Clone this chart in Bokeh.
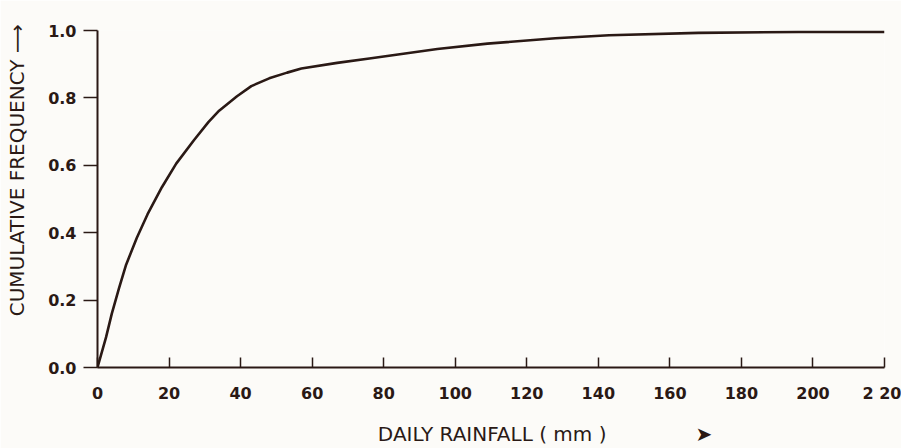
from bokeh.plotting import figure
from bokeh.models import FixedTicker, Range1d, PrintfTickFormatter, ColumnDataSource
from bokeh.embed import file_html
from bokeh.resources import INLINE

# Data (daily rainfall in mm vs cumulative frequency)
rainfall_mm = [0, 2.4, 4, 6, 8, 11, 14, 18, 22, 27, 31, 34, 39, 43, 48, 53, 57,
               67, 76, 86, 95, 109, 128, 143, 168, 196, 220]
cum_freq = [0.0, 0.09, 0.16, 0.235, 0.305, 0.385, 0.455, 0.535, 0.605, 0.675, 0.728,
            0.762, 0.805, 0.835, 0.858, 0.875, 0.887, 0.904, 0.917, 0.932, 0.945, 0.961,
            0.977, 0.986, 0.993, 0.996, 0.996]

x_ticks = [0, 20, 40, 60, 80, 100, 120, 140, 160, 180, 200, 220]
y_ticks = [0.0, 0.2, 0.4, 0.6, 0.8, 1.0]
x_title = "DAILY RAINFALL ( mm )"
y_title = "CUMULATIVE FREQUENCY"

INK = "#2a1915"
BG = "#fcfbf8"
FONT = "DejaVu Sans"
NB = "\u00a0"

p = figure(width=901, height=448, output_backend="svg", toolbar_location=None,
           x_range=Range1d(0, 220), y_range=Range1d(0, 1.0),
           min_border_left=97, min_border_right=17, min_border_top=30, min_border_bottom=77)
p.background_fill_color = BG
p.border_fill_color = BG
p.outline_line_color = None
p.xgrid.visible = False
p.ygrid.visible = False

src = ColumnDataSource(dict(x=rainfall_mm, y=cum_freq))
p.line("x", "y", source=src, line_color=INK, line_width=2.6, line_join="round")

# x axis: ticks pointing inward
xa = p.xaxis[0]
xa.ticker = FixedTicker(ticks=x_ticks)
xa.major_label_overrides = {220: "2 20"}
xa.major_tick_in = 10
xa.major_tick_out = 0
xa.minor_tick_line_color = None
xa.axis_line_width = 2
xa.axis_line_color = INK
xa.major_tick_line_color = INK
xa.major_tick_line_width = 1.5
xa.major_label_text_font = FONT
xa.major_label_text_font_style = "bold"
xa.major_label_text_font_size = "16px"
xa.major_label_text_color = INK
xa.major_label_standoff = 16
xa.axis_label = NB * 17 + x_title + NB * 14 + "\u27a4"
xa.axis_label_text_font = FONT
xa.axis_label_text_font_style = "normal"
xa.axis_label_text_font_size = "20px"
xa.axis_label_text_color = INK
xa.axis_label_standoff = 16

ya = p.yaxis[0]
ya.ticker = FixedTicker(ticks=y_ticks)
ya.formatter = PrintfTickFormatter(format="%.1f")
ya.major_tick_in = 0
ya.major_tick_out = 14
ya.minor_tick_line_color = None
ya.axis_line_width = 2
ya.axis_line_color = INK
ya.major_tick_line_color = INK
ya.major_tick_line_width = 1.5
ya.major_label_text_font = FONT
ya.major_label_text_font_style = "bold"
ya.major_label_text_font_size = "16px"
ya.major_label_text_color = INK
ya.major_label_standoff = 7
ya.axis_label = NB * 9 + y_title + NB + "\u27f6"
ya.axis_label_text_font = FONT
ya.axis_label_text_font_style = "normal"
ya.axis_label_text_font_size = "20px"
ya.axis_label_text_color = INK
ya.axis_label_standoff = 16

open("out.html", "w").write(file_html(p, INLINE))
